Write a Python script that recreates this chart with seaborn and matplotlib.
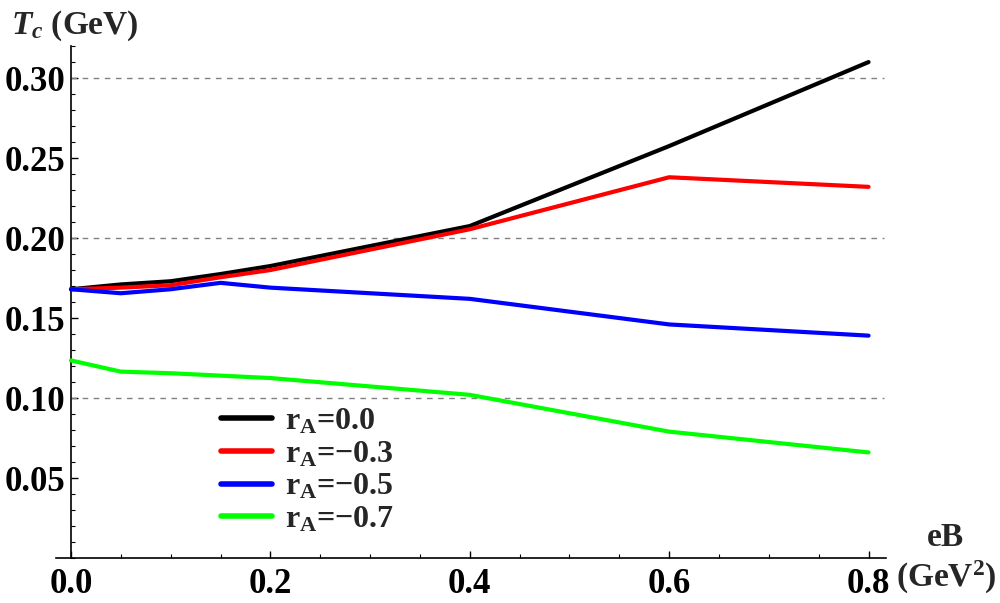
"""
Critical temperature T_c versus magnetic field eB for several r_A values.
"""

import matplotlib
matplotlib.use("Agg")
import matplotlib.pyplot as plt
from matplotlib.ticker import MultipleLocator, FixedLocator
import seaborn as sns
import pandas as pd

# Data
eb_values = [0.0, 0.05, 0.10, 0.15, 0.20, 0.40, 0.60, 0.80]
tc_r00 = [0.168, 0.171, 0.173, 0.1775, 0.1825, 0.2075, 0.2575, 0.310]
tc_r03 = [0.168, 0.169, 0.1705, 0.1755, 0.180, 0.2055, 0.238, 0.232]
tc_r05 = [0.168, 0.1655, 0.168, 0.172, 0.169, 0.162, 0.146, 0.139]
tc_r07 = [0.1235, 0.1165, 0.1155, 0.114, 0.1125, 0.102, 0.079, 0.066]
series_labels = [r"$\mathrm{r}_\mathrm{A}$=0.0", r"$\mathrm{r}_\mathrm{A}$=\u22120.3",
                 r"$\mathrm{r}_\mathrm{A}$=\u22120.5", r"$\mathrm{r}_\mathrm{A}$=\u22120.7"]
series_labels = [s.replace("\\u2212", "\u2212") for s in series_labels]
series_colors = ["#000000", "#ff0000", "#0000ff", "#00ff00"]
grid_y = [0.10, 0.20, 0.30]
x_ticks = [0.0, 0.2, 0.4, 0.6, 0.8]
y_ticks = [0.05, 0.10, 0.15, 0.20, 0.25, 0.30]

# Build long-form table for seaborn
rows = []
for label, values in zip(series_labels, [tc_r00, tc_r03, tc_r05, tc_r07]):
    for eb, tc in zip(eb_values, values):
        rows.append({"eB": eb, "Tc": tc, "series": label})
df = pd.DataFrame(rows)

sns.set_theme(style="white")
plt.rcParams["font.family"] = ["Liberation Serif", "DejaVu Serif"]
plt.rcParams["font.weight"] = "bold"
plt.rcParams["mathtext.fontset"] = "custom"
plt.rcParams["mathtext.rm"] = "Liberation Serif:bold"
plt.rcParams["mathtext.it"] = "Liberation Serif:italic:bold"
plt.rcParams["mathtext.bf"] = "Liberation Serif:bold"

fig = plt.figure(figsize=(10, 6.03), dpi=100)
ax = fig.add_axes([0.056, 0.0746, 0.83, 0.849])

# Dashed reference lines
for gy in grid_y:
    ax.plot([0, 0.815], [gy, gy], ls=(0, (4, 4)), lw=1.0, color="#808080", zorder=1)

sns.lineplot(data=df, x="eB", y="Tc", hue="series", hue_order=series_labels,
             palette=series_colors, linewidth=3.0, ax=ax, legend=True, zorder=3)

ax.set_xlim(-0.015, 0.8175)
ax.set_ylim(0, 0.32)

ax.spines["top"].set_visible(False)
ax.spines["right"].set_visible(False)
ax.spines["left"].set_position(("data", 0))
for sp in ["left", "bottom"]:
    ax.spines[sp].set_color("black")
    ax.spines[sp].set_linewidth(1.2)

ax.xaxis.set_major_locator(FixedLocator(x_ticks))
ax.xaxis.set_minor_locator(MultipleLocator(0.05))
ax.yaxis.set_major_locator(FixedLocator(y_ticks))
ax.yaxis.set_minor_locator(MultipleLocator(0.01))
ax.set_xticklabels([f"{v:.1f}" for v in x_ticks])
ax.set_yticklabels([f"{v:.2f}" for v in y_ticks])

ax.tick_params(axis="both", which="major", direction="in", length=5, width=1,
               colors="black", labelsize=25)
ax.tick_params(axis="both", which="minor", direction="in", length=3, width=0.8,
               colors="black")
ax.tick_params(axis="x", which="both", bottom=True, pad=7)
ax.tick_params(axis="y", which="both", left=True, pad=4)
for lab in ax.get_xticklabels() + ax.get_yticklabels():
    lab.set_fontweight("bold")

ax.set_xlabel("")
ax.set_ylabel("")

# Axis titles as in the original
fig.text(0.011, 0.958, r"$T_c$ (GeV)", fontsize=24, fontweight="bold",
         ha="left", va="center")
fig.text(0.945, 0.109, "eB", fontsize=24, fontweight="bold", ha="center", va="center")
fig.text(0.946, 0.043, r"(GeV$^2$)", fontsize=24, fontweight="bold",
         ha="center", va="center")

leg = ax.legend(loc="upper left", bbox_to_anchor=(0.221, 1 - 407 / 603),
                bbox_transform=fig.transFigure, frameon=False, fontsize=23,
                handlelength=1.6, handletextpad=0.4, labelspacing=0.1,
                borderpad=0, borderaxespad=0)
for line in leg.get_lines():
    line.set_linewidth(4.0)

fig.savefig("out.png", dpi=100)
